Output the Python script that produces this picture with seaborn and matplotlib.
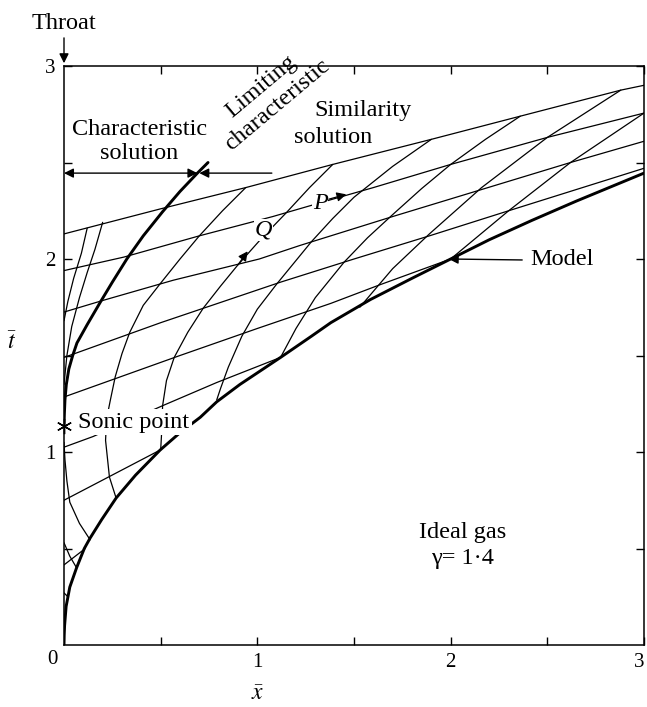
import matplotlib
matplotlib.use("Agg")
import matplotlib.pyplot as plt
import seaborn as sns

# ---- values (x = x-bar, t = t-bar) ----
# model (nozzle) boundary, thick
model_x = [0, 0.001, 0.003, 0.011, 0.03, 0.065, 0.105, 0.135, 0.195, 0.27, 0.37, 0.497, 0.6, 0.705, 0.79,
           0.91, 1.12, 1.28, 1.38, 1.585, 1.80, 2.0, 2.2, 2.42, 2.65, 3.0]
model_t = [0, 0.05, 0.1, 0.2, 0.3, 0.40, 0.5, 0.554, 0.65, 0.762, 0.88, 1.01, 1.1, 1.18, 1.26,
           1.35, 1.49, 1.6, 1.67, 1.79, 1.9, 2.0, 2.1, 2.2, 2.3, 2.445]

# limiting characteristic, thick
lim_x = [0, 0.002, 0.005, 0.012, 0.025, 0.045, 0.067, 0.12, 0.19, 0.25, 0.325, 0.41, 0.51, 0.6, 0.69, 0.745]
lim_t = [1.135, 1.2, 1.27, 1.35, 1.43, 1.5, 1.565, 1.66, 1.78, 1.88, 2.0, 2.12, 2.245, 2.35, 2.445, 2.50]

# shallow characteristics
a1_x = [0, 0.5, 0.94, 1.39, 1.9, 2.36, 2.88, 3.0]
a1_t = [2.13, 2.26, 2.37, 2.49, 2.62, 2.74, 2.875, 2.90]
a2_x = [0, 0.31, 0.70, 1.08, 1.39, 1.6, 2.0, 2.5, 3.0]
a2_t = [1.94, 2.01, 2.12, 2.22, 2.31, 2.37, 2.49, 2.63, 2.756]
a3_x = [0, 0.2, 0.565, 1.01, 1.22, 1.7, 2.16, 2.62, 3.0]
a3_t = [1.725, 1.785, 1.89, 2.0, 2.07, 2.22, 2.36, 2.50, 2.61]
a4_x = [0, 0.5, 1.12, 1.5, 1.89, 2.3, 3.0]
a4_t = [1.49, 1.67, 1.88, 2.0, 2.12, 2.25, 2.47]
a5_x = [0, 0.6, 1.0, 1.38, 1.63, 2.0]
a5_t = [1.285, 1.5, 1.64, 1.77, 1.865, 2.0]
a6_x = [0, 0.15, 0.51, 0.79, 1.12]
a6_t = [1.025, 1.08, 1.24, 1.36, 1.49]
a7_x = [0, 0.497]
a7_t = [0.75, 1.01]
a8_x = [0, 0.11]
a8_t = [0.415, 0.50]

# steep characteristics
b1_x = [0.27, 0.235, 0.215, 0.22, 0.24, 0.265, 0.30, 0.34, 0.41, 0.5, 0.60, 0.70, 0.82, 0.94]
b1_t = [0.76, 0.87, 1.06, 1.17, 1.27, 1.39, 1.51, 1.62, 1.76, 1.875, 2.0, 2.12, 2.25, 2.37]
b2_x = [0.5, 0.505, 0.51, 0.53, 0.57, 0.64, 0.72, 0.81, 0.9, 1.02, 1.15, 1.27, 1.39]
b2_t = [1.01, 1.1, 1.24, 1.37, 1.49, 1.62, 1.745, 1.86, 1.97, 2.105, 2.24, 2.37, 2.49]
b3_x = [0.79, 0.81, 0.85, 0.92, 1.0, 1.1, 1.19, 1.28, 1.39, 1.5, 1.7, 1.9]
b3_t = [1.27, 1.33, 1.44, 1.6, 1.74, 1.87, 1.98, 2.09, 2.21, 2.32, 2.48, 2.62]
b4_x = [1.12, 1.2, 1.3, 1.45, 1.57, 1.70, 1.85, 2.0, 2.18, 2.36]
b4_t = [1.49, 1.64, 1.80, 1.985, 2.11, 2.23, 2.365, 2.49, 2.62, 2.74]
b5_x = [1.53, 1.7, 1.89, 2.16, 2.5, 2.88]
b5_t = [1.75, 1.95, 2.13, 2.37, 2.63, 2.875]
b6_x = [2.0, 2.3, 2.62, 3.0]
b6_t = [2.0, 2.25, 2.50, 2.756]

# curves near the throat
c1_x = [0.12, 0.09, 0.05, 0.02, 0.0]
c1_t = [2.16, 2.03, 1.9, 1.78, 1.68]
c2_x = [0.20, 0.16, 0.12, 0.08, 0.04, 0.015, 0.0]
c2_t = [2.19, 2.05, 1.93, 1.80, 1.65, 1.5, 1.35]
l1_x = [0, 0.005, 0.015, 0.03, 0.08, 0.135]
l1_t = [1.05, 0.96, 0.85, 0.74, 0.63, 0.545]
l0_x = [0, 0.03, 0.065]
l0_t = [0.53, 0.46, 0.40]
l9_x = [0, 0.02]
l9_t = [0.27, 0.25]

sonic_x, sonic_t = 0, 1.135
arrow_t = 2.445  # level of the "characteristic solution" arrows

x_ticks = [1, 2, 3]
t_ticks = [1, 2, 3]

sns.set_theme(style="ticks", rc={"axes.edgecolor": "black", "xtick.color": "black",
                                 "ytick.color": "black", "text.color": "black"})
plt.rcParams['font.family'] = ['Liberation Serif', 'DejaVu Serif']
plt.rcParams['mathtext.fontset'] = 'stix'

fig = plt.figure(figsize=(6.47, 7.07), dpi=100)
ax = fig.add_axes([64 / 647, 62 / 707, 580 / 647, 579 / 707])

thin = [(a1_x, a1_t), (a2_x, a2_t), (a3_x, a3_t), (a4_x, a4_t), (a5_x, a5_t),
        (a6_x, a6_t), (a7_x, a7_t), (a8_x, a8_t),
        (b1_x, b1_t), (b2_x, b2_t), (b3_x, b3_t), (b4_x, b4_t), (b5_x, b5_t), (b6_x, b6_t),
        (c1_x, c1_t), (c2_x, c2_t), (l1_x, l1_t), (l0_x, l0_t), (l9_x, l9_t)]
for xs, ts in thin:
    sns.lineplot(x=xs, y=ts, sort=False, estimator=None, color='black', linewidth=0.9, ax=ax)

sns.lineplot(x=model_x, y=model_t, sort=False, estimator=None, color='black', linewidth=2.1, ax=ax)
sns.lineplot(x=lim_x, y=lim_t, sort=False, estimator=None, color='black', linewidth=2.1, ax=ax)

ax.plot([sonic_x], [sonic_t], marker=(6, 2, 0), color='black', markersize=11,
        markeredgewidth=1.0, clip_on=False, zorder=5)

ax.set_xlim(0, 3)
ax.set_ylim(0, 3)
ax.set_xticks(x_ticks)
ax.set_yticks(t_ticks)
ax.set_xticks([0.5, 1.5, 2.5], minor=True)
ax.set_yticks([0.5, 1.5, 2.5], minor=True)
ax.tick_params(which='both', direction='in', length=6, width=1.0, top=True, right=True,
               labelsize=15, pad=6)
ax.get_xticklabels()[-1].set_horizontalalignment('right')
for s in ax.spines.values():
    s.set_linewidth(1.1)
    s.set_color('black')

ax.text(-0.062, -0.075, "0", fontsize=15, ha='center', va='center')
ax.text(-0.27, 1.565, r"$\bar{t}$", fontsize=17, ha='center', va='center')
ax.text(1.0, -0.255, r"$\bar{x}$", fontsize=17, ha='center', va='center', clip_on=False)

fs = 17.5
ax.text(0, 3.22, "Throat", fontsize=fs, ha='center', va='center')
ax.annotate("", xy=(0, 3.0), xytext=(0, 3.16), annotation_clip=False,
            arrowprops=dict(arrowstyle='-|>', color='black', lw=1.0, mutation_scale=14))

ax.text(0.39, 2.61, "Characteristic\nsolution", fontsize=fs, ha='center', va='center',
        linespacing=1.2)
ax.annotate("", xy=(0, arrow_t), xytext=(0.69, arrow_t),
            arrowprops=dict(arrowstyle='<|-|>', color='black', lw=1.0, mutation_scale=14,
                            shrinkA=0, shrinkB=0))
ax.annotate("", xy=(0.70, arrow_t), xytext=(1.075, arrow_t),
            arrowprops=dict(arrowstyle='-|>', color='black', lw=1.0, mutation_scale=14,
                            shrinkA=0, shrinkB=0))

ax.text(1.06, 2.845, "Limiting\ncharacteristic", fontsize=fs, ha='center', va='center',
        rotation=40, rotation_mode='anchor', linespacing=1.25, zorder=6)
ax.text(1.547, 2.77, "Similarity", fontsize=fs, ha='center', va='center')
ax.text(1.39, 2.63, "solution", fontsize=fs, ha='center', va='center')

ax.text(0.362, 1.155, "Sonic point", fontsize=fs, ha='center', va='center', zorder=6,
        bbox=dict(facecolor='white', edgecolor='none', pad=1.5))

ax.text(1.325, 2.29, "P", fontsize=fs, style='italic', ha='center', va='center', zorder=6,
        bbox=dict(facecolor='white', edgecolor='none', pad=0.5))
ax.annotate("", xy=(1.46, 2.335), xytext=(1.37, 2.31),
            arrowprops=dict(arrowstyle='-|>', color='black', lw=0.9, mutation_scale=14,
                            shrinkA=0, shrinkB=0))
ax.text(1.03, 2.15, "Q", fontsize=fs, style='italic', ha='center', va='center', zorder=6,
        bbox=dict(facecolor='white', edgecolor='none', pad=0.5))
ax.annotate("", xy=(0.95, 2.04), xytext=(0.9, 1.97),
            arrowprops=dict(arrowstyle='-|>', color='black', lw=0.9, mutation_scale=14,
                            shrinkA=0, shrinkB=0))

ax.text(2.41, 1.995, "Model", fontsize=fs, ha='left', va='center')
ax.annotate("", xy=(1.99, 2.0), xytext=(2.37, 1.995),
            arrowprops=dict(arrowstyle='-|>', color='black', lw=1.0, mutation_scale=14,
                            shrinkA=0, shrinkB=0))

ax.text(2.06, 0.585, "Ideal gas", fontsize=fs, ha='center', va='center')
ax.text(2.06, 0.45, "γ= 1·4", fontsize=fs, ha='center', va='center')

fig.savefig("out.png", dpi=100)
